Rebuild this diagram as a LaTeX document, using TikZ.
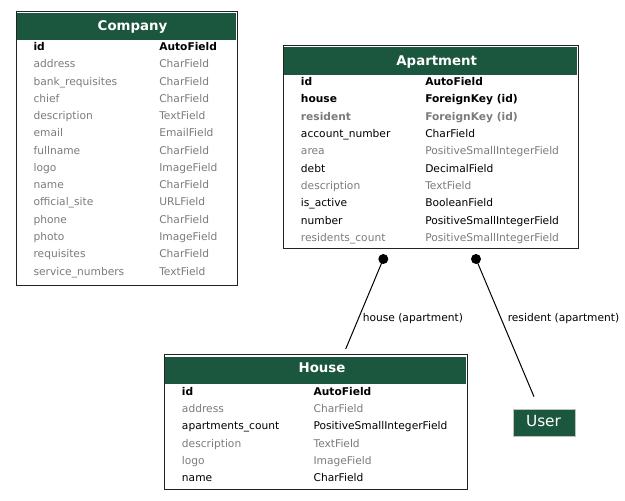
\documentclass[tikz,border=0pt]{standalone}
\usepackage{fontspec}
\setmainfont{DejaVu Sans}
\usetikzlibrary{fit}
\definecolor{hdrgreen}{HTML}{1B563F}
\definecolor{fgray}{HTML}{7B7B7B}
\definecolor{tblborder}{HTML}{222222}
\tikzset{
  tbl/.style={draw=tblborder, line width=0.75pt, inner sep=0pt},
  hdr/.style={fill=hdrgreen, inner sep=0pt},
  ttl/.style={font=\fontsize{10}{12}\selectfont\bfseries, text=white, anchor=base, inner sep=0pt},
  fld/.style={font=\fontsize{8}{10}\selectfont, anchor=base west, inner sep=0pt},
  kb/.style={fld, font=\fontsize{8}{10}\selectfont\bfseries, text=black},
  k/.style={fld, text=black},
  g/.style={fld, text=fgray},
  gb/.style={fld, font=\fontsize{8}{10}\selectfont\bfseries, text=fgray},
  lbl/.style={font=\fontsize{8}{10}\selectfont, anchor=base west, inner sep=0pt},
  fkdot/.style={circle, fill=black, inner sep=0pt, minimum size=7.5pt},
  conn/.style={draw=black, line width=0.75pt},
  usernode/.style={fill=hdrgreen, draw=gray!50, line width=0.6pt, text=white, font=\fontsize{11.5}{13}\selectfont, inner sep=0pt}
}
\begin{document}
\begin{tikzpicture}[x=0.75pt, y=-0.75pt]
\useasboundingbox (0,0) rectangle (625,500);
% ---------------- Company ----------------
\node[tbl, fit={(16,11) (237,285)}] (company) {};
\node[hdr, fit={(17.3,12.8) (235.7,40)}] (companyhdr) {};
\node[ttl] (companyttl) at (132.5,30.5) {Company};
\foreach [count=\i from 0] \n/\t/\s in {
  id/AutoField/kb, address/CharField/g, bank\_requisites/CharField/g,
  chief/CharField/g, description/TextField/g, email/EmailField/g,
  fullname/CharField/g, logo/ImageField/g, name/CharField/g,
  official\_site/URLField/g, phone/CharField/g, photo/ImageField/g,
  requisites/CharField/g, service\_numbers/TextField/g} {
  \node[\s] (c-n-\i) at (33.3, 50.5+17.27*\i) {\n};
  \node[\s] (c-t-\i) at (159, 50.5+17.27*\i) {\t};
}
% ---------------- Apartment ----------------
\node[tbl, fit={(283,45) (578,248)}] (apartment) {};
\node[hdr, fit={(284.3,47) (576.7,74.5)}] (apartmenthdr) {};
\node[ttl] (apartmentttl) at (436.7,65) {Apartment};
\foreach [count=\i from 0] \n/\t/\s in {
  id/AutoField/kb, house/ForeignKey (id)/kb, resident/ForeignKey (id)/gb,
  account\_number/CharField/k, area/PositiveSmallIntegerField/g,
  debt/DecimalField/k, description/TextField/g, is\_active/BooleanField/k,
  number/PositiveSmallIntegerField/k, residents\_count/PositiveSmallIntegerField/g} {
  \node[\s] (a-n-\i) at (300.7, 85.5+17.35*\i) {\n};
  \node[\s] (a-t-\i) at (425, 85.5+17.35*\i) {\t};
}
% ---------------- House ----------------
\node[tbl, fit={(164,354.3) (467.5,489.3)}] (house) {};
\node[hdr, fit={(165.3,356.5) (466.2,384.3)}] (househdr) {};
\node[ttl] (housettl) at (322,372.5) {House};
\foreach [count=\i from 0] \n/\t/\s in {
  id/AutoField/kb, address/CharField/g, apartments\_count/PositiveSmallIntegerField/k,
  description/TextField/g, logo/ImageField/g, name/CharField/k} {
  \node[\s] (h-n-\i) at (181.7, 395+17.34*\i) {\n};
  \node[\s] (h-t-\i) at (313.3, 395+17.34*\i) {\t};
}
% ---------------- User ----------------
\node[usernode, fit={(513.3,409) (575,436.7)}] (user) {};
\node[font=\fontsize{11.5}{13}\selectfont, text=white, anchor=base, inner sep=0pt] (userttl) at (543.5,426) {User};
% ---------------- Connectors ----------------
\node[fkdot] (hdot) at (383.3,259) {};
\coordinate (hend) at (345.7,349);
\draw[conn] (hdot.center) -- (hend);
\node[lbl] (hlbl) at (362.5,321.5) {house (apartment)};
\node[fkdot] (rdot) at (476,259) {};
\coordinate (rend) at (534,396.7);
\draw[conn] (rdot.center) -- (rend);
\node[lbl] (rlbl) at (507.5,321.5) {resident (apartment)};
\end{tikzpicture}
\end{document}
